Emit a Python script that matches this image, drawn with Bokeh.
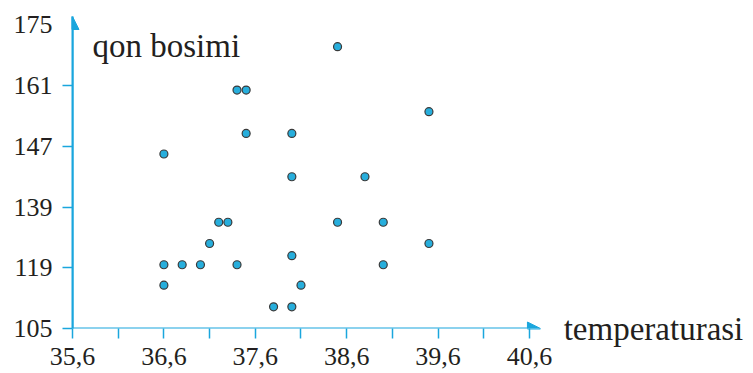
import numpy as np
from bokeh.plotting import figure
from bokeh.models import FixedTicker, Label, Arrow, NormalHead, Range1d
from bokeh.embed import file_html
from bokeh.resources import INLINE

# ---- data ----
temperature = [38.5, 37.4, 37.5, 37.5, 38.0, 39.5, 36.6, 38.0, 38.8, 38.5,
               39.0, 37.2, 37.3, 39.5, 37.1, 38.0, 36.6, 36.8, 37.0, 37.4,
               39.0, 36.6, 38.1, 37.8, 38.0]
pressure = [170, 160, 160, 150, 150, 155, 146, 143, 143, 134,
            134, 134, 134, 127, 127, 123, 120, 120, 120, 120,
            120, 115, 115, 110, 110]

x_major_ticks = [35.6, 36.6, 37.6, 38.6, 39.6, 40.6]
x_major_labels = ["35,6", "36,6", "37,6", "38,6", "39,6", "40,6"]
x_minor_ticks = [36.1, 37.1, 38.1, 39.1, 40.1]

y_tick_values = [105, 119, 139, 147, 161, 175]
y_tick_labels = ["105", "119", "139", "147", "161", "175"]

x_title = "temperaturasi"
y_title = "qon bosimi"

# ---- styling ----
CYAN = "#1AA6DD"
TEXT = "#231F20"
FONT = "Liberation Serif"

# y axis is evenly spaced by tick, not by value
y_index = list(range(len(y_tick_values)))
y_pos = np.interp(pressure, y_tick_values, y_index)

X0, X_ARROW, X1 = 35.6, 40.72, 41.957
Y0, Y1 = 0, 5.14

p = figure(width=753, height=373, output_backend="svg", toolbar_location=None,
           x_range=Range1d(X0, X1), y_range=Range1d(Y0, Y1),
           min_border_left=72, min_border_right=100,
           min_border_top=16, min_border_bottom=45)
p.outline_line_color = None
p.grid.visible = False
p.background_fill_color = "white"
p.border_fill_color = "white"

xa = p.xaxis[0]
xa.ticker = FixedTicker(ticks=x_major_ticks, minor_ticks=x_minor_ticks)
xa.major_label_overrides = dict(zip(x_major_ticks, x_major_labels))
xa.major_tick_out = 10
xa.major_tick_in = 0
xa.minor_tick_out = 10
xa.minor_tick_in = 0
xa.major_label_standoff = 9
xa.axis_line_color = None   # the line is drawn by the arrow below
xa.axis_label = x_title
xa.axis_label_align = "end"
xa.axis_label_standoff = -57
xa.axis_label_text_font = FONT
xa.axis_label_text_font_size = "33px"
xa.axis_label_text_font_style = "normal"
xa.axis_label_text_color = TEXT

ya = p.yaxis[0]
ya.ticker = FixedTicker(ticks=y_index, minor_ticks=y_index[:-1])
ya.major_label_overrides = dict(zip(y_index, y_tick_labels))
ya.major_tick_out = 0
ya.major_tick_in = 0
ya.minor_tick_out = 10
ya.minor_tick_in = 0
ya.major_label_standoff = 10
ya.axis_line_color = CYAN
ya.axis_line_width = 2
ya.axis_label = None

for ax in (xa, ya):
    ax.major_tick_line_color = CYAN
    ax.minor_tick_line_color = CYAN
    ax.major_tick_line_width = 1.5
    ax.minor_tick_line_width = 1.5
    ax.major_label_text_font = FONT
    ax.major_label_text_font_size = "26px"
    ax.major_label_text_color = TEXT

p.scatter(x=temperature, y=y_pos, size=8, fill_color="#27AEDC",
          line_color="#3A3A3A", line_width=1.2)

p.add_layout(Arrow(x_start=X0, y_start=Y0, x_end=X_ARROW, y_end=Y0,
                   line_color=CYAN, line_width=2,
                   end=NormalHead(size=13, fill_color=CYAN, line_color=CYAN, line_width=1)))
p.add_layout(Arrow(x_start=X0, y_start=Y0, x_end=X0, y_end=Y1,
                   line_color=CYAN, line_width=2,
                   end=NormalHead(size=13, fill_color=CYAN, line_color=CYAN, line_width=1)))

# screen units here are measured from the frame's bottom-left corner
p.add_layout(Label(x=20, y=283, x_units="screen", y_units="screen", text=y_title,
                   text_font=FONT, text_font_size="33px", text_color=TEXT,
                   text_baseline="alphabetic", text_align="left"))

open("out.html", "w").write(file_html(p, INLINE))
